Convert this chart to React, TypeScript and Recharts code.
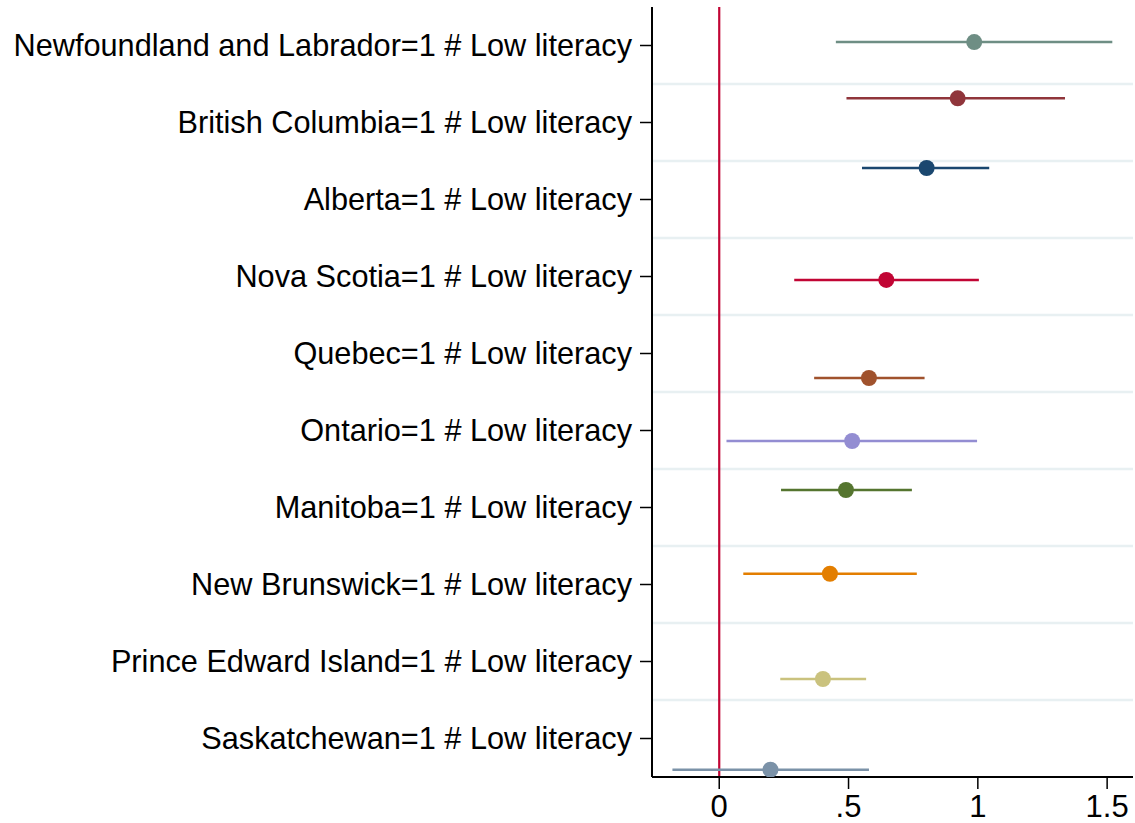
import { ScatterChart, Scatter, XAxis, YAxis, ErrorBar, ReferenceLine } from 'recharts'

const provinces = [
  'Newfoundland and Labrador',
  'British Columbia',
  'Alberta',
  'Nova Scotia',
  'Quebec',
  'Ontario',
  'Manitoba',
  'New Brunswick',
  'Prince Edward Island',
  'Saskatchewan',
]
const estimates = [0.986, 0.922, 0.802, 0.646, 0.579, 0.514, 0.49, 0.428, 0.401, 0.198]
const lower = [0.451, 0.492, 0.552, 0.29, 0.367, 0.028, 0.239, 0.093, 0.236, -0.181]
const upper = [1.52, 1.337, 1.044, 1.004, 0.794, 0.997, 0.745, 0.764, 0.568, 0.579]
// vertical placement of each marker (row units, 1 = top row)
const rowPos = [0.955, 1.686, 2.591, 4.045, 5.318, 6.136, 6.773, 7.86, 9.227, 10.405]
const colors = [
  '#6e8e84', '#90353b', '#1a476f', '#c10534', '#a0522d',
  '#938dd2', '#55752f', '#e37e00', '#cac27e', '#7b92a8',
]
const xTicks = [0, 0.5, 1, 1.5]
const xTickLabels = ['0', '.5', '1', '1.5']
const rowTicks = [1, 2, 3, 4, 5, 6, 7, 8, 9, 10]
const gridRows = [1.5, 2.5, 3.5, 4.5, 5.5, 6.5, 7.5, 8.5, 9.5]

const font = '"Liberation Sans", Arial, Helvetica, sans-serif'

function App() {
  return (
    <div style={{ position: 'absolute', left: 0, top: 0, background: '#fff' }}>
      <ScatterChart
        width={1135}
        height={823}
        margin={{ top: 7, right: 2, bottom: 0, left: 0 }}
        style={{ fontFamily: font }}
      >
        <XAxis
          type="number"
          dataKey="x"
          domain={[-0.26, 1.6]}
          allowDataOverflow
          ticks={xTicks}
          tickFormatter={(v: number) => xTickLabels[xTicks.indexOf(v)] ?? String(v)}
          height={46}
          tickSize={12}
          tickMargin={6}
          axisLine={{ stroke: '#000', strokeWidth: 2 }}
          tickLine={{ stroke: '#000', strokeWidth: 1.5 }}
          tick={{ fill: '#000', fontSize: 31 }}
        />
        <YAxis
          type="number"
          dataKey="y"
          domain={[0.5, 10.5]}
          reversed
          allowDataOverflow
          ticks={rowTicks}
          interval={0}
          tickFormatter={(v: number) => `${provinces[v - 1]}=1 # Low literacy`}
          width={652}
          tickSize={12}
          tickMargin={8}
          axisLine={{ stroke: '#000', strokeWidth: 2 }}
          tickLine={{ stroke: '#000', strokeWidth: 1.5 }}
          tick={{ fill: '#000', fontSize: 30.7 }}
        />
        {gridRows.map((g) => (
          <ReferenceLine key={g} y={g} stroke="#e8f0f2" strokeWidth={2.5} />
        ))}
        <ReferenceLine x={0} stroke="#c10534" strokeWidth={2.2} />
        {provinces.map((p, i) => (
          <Scatter
            key={p}
            name={p}
            data={[{ x: estimates[i], y: rowPos[i], err: [estimates[i] - lower[i], upper[i] - estimates[i]] }]}
            fill={colors[i]}
            isAnimationActive={false}
            shape={(props: any) => <circle cx={props.cx} cy={props.cy} r={8} fill={colors[i]} />}
          >
            <ErrorBar dataKey="err" direction="x" width={0} stroke={colors[i]} strokeWidth={2.5} />
          </Scatter>
        ))}
      </ScatterChart>
    </div>
  )
}

export default App
